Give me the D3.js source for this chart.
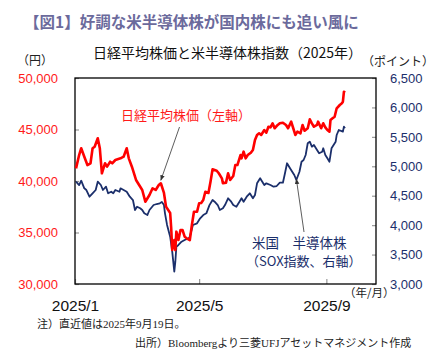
<!DOCTYPE html>
<html><head><meta charset="utf-8">
<script src="https://cdn.jsdelivr.net/npm/d3@7/dist/d3.min.js"></script>
<style>
html,body{margin:0;padding:0;background:#fff;}
svg{display:block;}
</style></head>
<body>
<script>
// ---- Data ----
const nikkeiDates = ["01-02","01-05","01-07","01-10","01-13","01-16","01-18","01-20","01-23","01-25","01-27","01-30",
"02-01","02-04","02-06","02-09","02-14","02-17","02-20","02-22","02-25",
"03-01","03-04","03-07","03-10","03-14","03-17","03-20","03-23","03-25","03-28","03-30",
"04-03","04-04","04-05","04-07","04-08","04-09","04-11","04-13","04-15","04-17","04-19","04-22","04-24","04-26","04-29",
"05-01","05-03","05-05","05-07","05-10","05-12","05-14","05-18","05-20","05-23","05-24","05-27","05-29","05-31",
"06-03","06-05","06-07","06-10","06-11","06-13","06-15","06-17","06-20","06-22","06-24","06-26","06-28","06-30",
"07-03","07-05","07-07","07-09","07-11","07-13","07-16","07-18","07-21","07-24","07-26","07-29","07-31",
"08-02","08-04","08-07","08-09","08-11","08-14","08-16","08-18","08-20","08-23","08-24","08-27","08-29","08-31",
"09-02","09-04","09-05","09-07","09-09","09-11","09-14","09-16","09-17","09-18","09-19"];
const nikkeiValues = [41230,42520,43180,42360,41550,41720,43180,43330,44150,43180,
40750,41720,41390,41870,41720,42040,42200,42360,43180,42200,
41390,40100,39610,39130,37990,38640,39290,39130,39610,39780,
38840,37510,36890,35440,33300,34270,33300,35080,34270,35240,
35240,34590,34440,34270,35730,37020,37020,37840,37860,38160,
38960,38840,39930,41140,41000,40750,40260,39780,39840,40750,
40100,40490,41550,41550,42520,42200,42850,42200,42520,42750,
43010,43980,44470,44630,44470,44950,44690,45270,45210,45600,
45120,45440,45600,45660,45440,45120,45760,45120,44470,44790,
44630,45440,44880,45120,45990,45600,45270,45440,45760,45120,
45600,45210,44950,44790,45920,46090,46240,47060,47380,47540,
47700,48670,48570];

const soxDates = ["01-02","01-05","01-07","01-10","01-12","01-15","01-18","01-21","01-23","01-26","01-28","01-31",
"02-02","02-05","02-07","02-09","02-13","02-14","02-17","02-20","02-23","02-26","02-28",
"03-02","03-05","03-07","03-09","03-12","03-14","03-18","03-21","03-24","03-26","03-28","03-29","03-31",
"04-03","04-05","04-07","04-08","04-09","04-11","04-14","04-17","04-21","04-22","04-25","04-29",
"05-02","05-05","05-08","05-11","05-14","05-16","05-19","05-21","05-24","05-26","05-29",
"06-01","06-03","06-06","06-09","06-11","06-13","06-16","06-19","06-22","06-24","06-26","06-29","06-30",
"07-03","07-05","07-09","07-12","07-15","07-18","07-21","07-23","07-25","07-27","07-30",
"08-01","08-03","08-06","08-08","08-10","08-12","08-14","08-16","08-18","08-20","08-23","08-25","08-28","08-29","08-31",
"09-02","09-04","09-06","09-08","09-10","09-11","09-13","09-17","09-18","09-19"];
const soxValues = [4740,4680,4755,4626,4597,4483,4541,4597,4738,4682,
4597,4653,4541,4568,4541,4597,4568,4626,4597,4568,
4483,4427,4257,4313,4286,4257,4201,4172,4257,4342,
4359,4371,4393,4342,4201,4003,3804,3549,3209,3379,
3634,3663,3719,3748,3777,3804,4003,4031,4116,4172,
4201,4340,4427,4398,4342,4257,4286,4342,4456,4398,
4342,4313,4398,4456,4398,4483,4541,4456,4512,4711,
4796,4767,4682,4711,4682,4653,4665,4721,4721,4881,
5051,4993,4908,4852,4767,4908,5078,5107,5192,5391,
5418,5333,5362,5277,5221,5248,5306,5192,5136,5078,
5306,5362,5418,5532,5617,5588,5673,5645];

const leftTicks = [30000,35000,40000,45000,50000];
const rightTicks = [3000,3500,4000,4500,5000,5500,6000,6500];
const xTickDates = ["2025-01-01","2025-05-01","2025-09-01"];
const xTickLabels = ["2025/1","2025/5","2025/9"];

// ---- Drawing ----
const W = 440, H = 357;
const P = {l:75, r:376, t:78, b:284};
const jp = "'Noto Sans CJK JP','Noto Sans',sans-serif";
const latin = "'Liberation Sans',Arial,sans-serif";
const navy = "#1b2f6b";

const parse = s => new Date("2025-" + s + "T00:00:00");
const nikkei = nikkeiDates.map((d,i)=>({date:parse(d), v:nikkeiValues[i]}));
const sox = soxDates.map((d,i)=>({date:parse(d), v:soxValues[i]}));

const svg = d3.select("body").append("svg").attr("width",W).attr("height",H);
svg.append("rect").attr("width",W).attr("height",H).attr("fill","#fff");

const x = d3.scaleTime().domain([new Date("2025-01-01T00:00:00"), new Date("2025-10-19T00:00:00")]).range([P.l,P.r]);
const yL = d3.scaleLinear().domain([30000,50000]).range([P.b,P.t]);
const yR = d3.scaleLinear().domain([3000,6500]).range([P.b,P.t]);

// titles
svg.append("text").attr("x",24).attr("y",28).attr("font-family",jp).attr("font-weight","bold")
  .attr("font-size",15.5).attr("fill","#6b6a9c").text("【図1】好調な米半導体株が国内株にも追い風に");
svg.append("text").attr("x",93).attr("y",58).attr("font-family",jp).attr("font-size",14)
  .attr("fill","#111").text("日経平均株価と米半導体株指数（2025年）");
svg.append("text").attr("x",17).attr("y",65).attr("font-family",jp).attr("font-size",12)
  .attr("fill","#222").text("（円）");
svg.append("text").attr("x",362).attr("y",66).attr("font-family",jp).attr("font-size",12)
  .attr("fill","#222").text("（ポイント）");

// axes
const gL = svg.append("g").attr("transform",`translate(${P.l},0)`)
  .call(d3.axisLeft(yL).tickValues(leftTicks).tickFormat(d3.format(",")).tickSizeInner(-4).tickSizeOuter(0).tickPadding(17));
gL.select(".domain").remove();
gL.selectAll("line").attr("stroke","#999").attr("stroke-width",1.2);
gL.selectAll("text").attr("font-family",latin).attr("font-size",13).attr("fill","#ff1a1a");

const gR = svg.append("g").attr("transform",`translate(${P.r},0)`)
  .call(d3.axisRight(yR).tickValues(rightTicks).tickFormat(d3.format(",")).tickSizeInner(-4).tickSizeOuter(0).tickPadding(14));
gR.select(".domain").remove();
gR.selectAll("line").attr("stroke","#999").attr("stroke-width",1.2);
gR.selectAll("text").attr("font-family",latin).attr("font-size",13).attr("fill",navy);

const gB = svg.append("g").attr("transform",`translate(0,${P.b})`)
  .call(d3.axisBottom(x).tickValues(xTickDates.map(d=>new Date(d+"T00:00:00")))
    .tickFormat((d,i)=>xTickLabels[i]).tickSizeInner(-5).tickSizeOuter(0).tickPadding(16));
gB.select(".domain").remove();
gB.selectAll("line").attr("stroke","#999").attr("stroke-width",1.2);
gB.selectAll("text").attr("font-family",latin).attr("font-size",15.5).attr("fill","#111");

svg.append("text").attr("x",344).attr("y",297).attr("font-family",jp).attr("font-size",11.5)
  .attr("fill","#222").text("（年/月）");

// frame
svg.append("rect").attr("x",P.l).attr("y",P.t).attr("width",P.r-P.l).attr("height",P.b-P.t)
  .attr("fill","none").attr("stroke","#000").attr("stroke-width",1.3);

// lines
svg.append("path").datum(sox).attr("fill","none").attr("stroke",navy).attr("stroke-width",1.8)
  .attr("stroke-linejoin","round")
  .attr("d", d3.line().x(d=>x(d.date)).y(d=>yR(d.v)));
svg.append("path").datum(nikkei).attr("fill","none").attr("stroke","#ff0000").attr("stroke-width",2.6)
  .attr("stroke-linejoin","round")
  .attr("d", d3.line().x(d=>x(d.date)).y(d=>yL(d.v)));

// annotations
const defs = svg.append("defs");
defs.append("marker").attr("id","ah").attr("viewBox","0 0 10 10").attr("refX",9).attr("refY",5)
  .attr("markerWidth",7).attr("markerHeight",7).attr("orient","auto")
  .append("path").attr("d","M0,1 L10,5 L0,9 Z").attr("fill","#333");

const aN = nikkei[nikkeiDates.indexOf("03-25")];
svg.append("line").attr("x1",179.5).attr("y1",127).attr("x2",x(aN.date)).attr("y2",yL(aN.v)-3)
  .attr("stroke","#333").attr("stroke-width",0.8).attr("marker-end","url(#ah)");
const aS = sox[soxDates.indexOf("08-03")];
svg.append("line").attr("x1",304).attr("y1",232).attr("x2",x(aS.date)).attr("y2",yR(aS.v)-1)
  .attr("stroke","#333").attr("stroke-width",0.8).attr("marker-end","url(#ah)");

svg.append("text").attr("x",121).attr("y",120).attr("font-family",jp).attr("font-size",13)
  .attr("fill","#ff1a1a").text("日経平均株価（左軸）");
svg.append("text").attr("x",252).attr("y",248).attr("font-family",jp).attr("font-size",13.5)
  .attr("fill",navy).text("米国　半導体株");
svg.append("text").attr("x",246).attr("y",266).attr("font-family",jp).attr("font-size",13)
  .attr("fill",navy).text("（SOX指数、右軸）");

// footnotes
svg.append("text").attr("x",37).attr("y",328).attr("font-family","'Liberation Serif','Noto Sans CJK JP',serif")
  .attr("font-size",11).attr("fill","#222").text("注）直近値は2025年9月19日。");
svg.append("text").attr("x",135).attr("y",347).attr("font-family","'Liberation Serif','Noto Sans CJK JP',serif")
  .attr("font-size",11).attr("fill","#222").text("出所）Bloombergより三菱UFJアセットマネジメント作成");
</script>
</body></html>
